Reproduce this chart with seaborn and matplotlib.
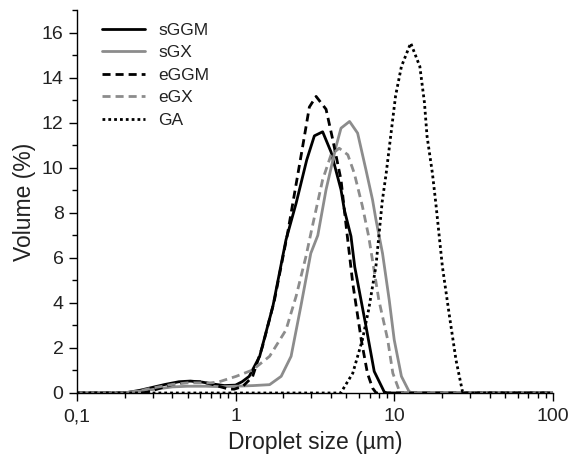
import matplotlib
matplotlib.use("Agg")
import matplotlib.pyplot as plt
import matplotlib.ticker as mticker
import seaborn as sns
import numpy as np
import pandas as pd

# ---- data ----
sGGM_x = [0.1, 0.2, 0.25, 0.3, 0.36, 0.44, 0.52, 0.62, 0.72, 0.85, 1.0, 1.1, 1.22, 1.42, 1.72, 2.08,
          2.41, 2.81, 3.14, 3.54, 4.0, 4.62, 4.85, 5.34, 5.64, 6.64, 7.48, 8.65, 9.0, 100]
sGGM_y = [0, 0, 0.12, 0.25, 0.38, 0.5, 0.53, 0.48, 0.4, 0.33, 0.35, 0.5, 0.74, 1.63, 3.85, 6.8,
          8.43, 10.35, 11.42, 11.6, 10.7, 9.03, 8.13, 6.96, 5.6, 2.96, 0.96, 0.05, 0, 0]

sGX_x = [0.1, 0.19, 0.25, 0.32, 0.4, 0.5, 0.65, 0.8, 1.0, 1.3, 1.64, 1.94, 2.24, 2.58, 2.98, 3.3,
         3.72, 4.3, 4.62, 5.23, 5.88, 6.64, 7.3, 7.67, 8.44, 9.3, 10.0, 11.1, 12.4, 13.0, 100]
sGX_y = [0, 0, 0.08, 0.18, 0.27, 0.3, 0.3, 0.28, 0.3, 0.33, 0.37, 0.74, 1.63, 3.85, 6.2, 7.0,
         9.03, 10.95, 11.76, 12.06, 11.54, 9.9, 8.58, 7.7, 6.2, 4.13, 2.36, 0.74, 0.07, 0, 0]

eGGM_x = [0.1, 0.25, 0.28, 0.33, 0.4, 0.5, 0.6, 0.7, 0.8, 0.9, 0.98, 1.11, 1.28, 1.48, 1.76, 2.13,
          2.65, 2.92, 3.22, 3.72, 4.1, 4.62, 5.0, 5.48, 6.2, 6.78, 7.3, 7.7, 100]
eGGM_y = [0, 0, 0.05, 0.2, 0.38, 0.5, 0.5, 0.4, 0.28, 0.18, 0.17, 0.29, 0.72, 2.07, 4.13, 7.1,
          10.95, 12.7, 13.17, 12.6, 11.25, 9.47, 7.3, 4.87, 2.36, 0.88, 0.22, 0, 0]

eGX_x = [0.1, 0.2, 0.25, 0.3, 0.4, 0.5, 0.6, 0.7, 0.79, 1.01, 1.28, 1.64, 2.08, 2.41, 2.78, 3.05,
         3.54, 4.0, 4.5, 5.1, 5.6, 6.3, 6.9, 8.0, 9.1, 9.8, 10.8, 11.0, 100]
eGX_y = [0, 0, 0.1, 0.22, 0.38, 0.45, 0.45, 0.45, 0.5, 0.74, 1.02, 1.63, 2.8, 4.3, 6.07, 7.4,
         9.47, 10.58, 10.87, 10.58, 9.76, 8.3, 6.96, 4.13, 2.36, 0.88, 0.07, 0, 0]

GA_x = [0.1, 4.6, 5.48, 6.3, 6.9, 7.67, 8.4, 8.9, 9.55, 10.2, 11.1, 12.7, 14.5, 15.5, 16.1, 17.4,
        18.3, 20.1, 22.3, 24.5, 26.9, 28.0, 100]
GA_y = [0, 0, 0.88, 2.36, 3.7, 5.63, 8.5, 9.76, 11.54, 13.2, 14.5, 15.54, 14.5, 12.9, 11.4, 9.76,
        8.4, 5.63, 3.4, 1.47, 0.07, 0, 0]

x_ticks = [0.1, 1, 10, 100]
x_ticklabels = ["0,1", "1", "10", "100"]
y_ticks = [0, 2, 4, 6, 8, 10, 12, 14, 16]

DASH = (0, (2.9, 1.8))
DOT = (0, (1, 1.1))
series = [
    ("sGGM", sGGM_x, sGGM_y, "black", "-"),
    ("sGX", sGX_x, sGX_y, "#8c8c8c", "-"),
    ("eGGM", eGGM_x, eGGM_y, "black", DASH),
    ("eGX", eGX_x, eGX_y, "#8c8c8c", DASH),
    ("GA", GA_x, GA_y, "black", DOT),
]

sns.set_style("ticks")
plt.rcParams['font.family'] = ['Liberation Sans', 'DejaVu Sans']

fig = plt.figure(figsize=(5.73, 4.59), dpi=100)
ax = fig.add_axes([0.134, 0.1438, 0.831, 0.834])

for name, xs, ys, col, ls in series:
    df = pd.DataFrame({"x": xs, "y": ys})
    sns.lineplot(data=df, x="x", y="y", ax=ax, color=col, linestyle=ls,
                 linewidth=2.0, label=name, estimator=None, sort=False)

ax.set_xscale("log")
ax.set_xlim(0.1, 100)
ax.set_ylim(0, 17)
ax.set_xticks(x_ticks)
ax.set_xticklabels(x_ticklabels)
ax.xaxis.set_minor_locator(mticker.LogLocator(base=10, subs=np.arange(2, 10)))
ax.xaxis.set_minor_formatter(mticker.NullFormatter())
ax.set_yticks(y_ticks)
ax.yaxis.set_minor_locator(mticker.MultipleLocator(1))
ax.tick_params(axis="both", which="major", length=6, width=1, labelsize=14, color="black", labelcolor="#222222")
ax.tick_params(axis="x", which="major", pad=5)
ax.tick_params(axis="both", which="minor", length=3.5, width=1, color="black")
for s in ["top", "right"]:
    ax.spines[s].set_visible(False)
for s in ["left", "bottom"]:
    ax.spines[s].set_color("black")
    ax.spines[s].set_linewidth(1)

ax.set_xlabel("Droplet size (µm)", fontsize=16.5, color="#222222", labelpad=4)
ax.set_ylabel("Volume (%)", fontsize=16.5, color="#222222", labelpad=4)

leg = ax.legend(loc="upper left", frameon=False, fontsize=12.5, handlelength=2.5,
                handletextpad=0.75, labelspacing=0.42, borderaxespad=0,
                bbox_to_anchor=(0.038, 0.985))
for t in leg.get_texts():
    t.set_color("#222222")

fig.savefig("out.png", dpi=100)
